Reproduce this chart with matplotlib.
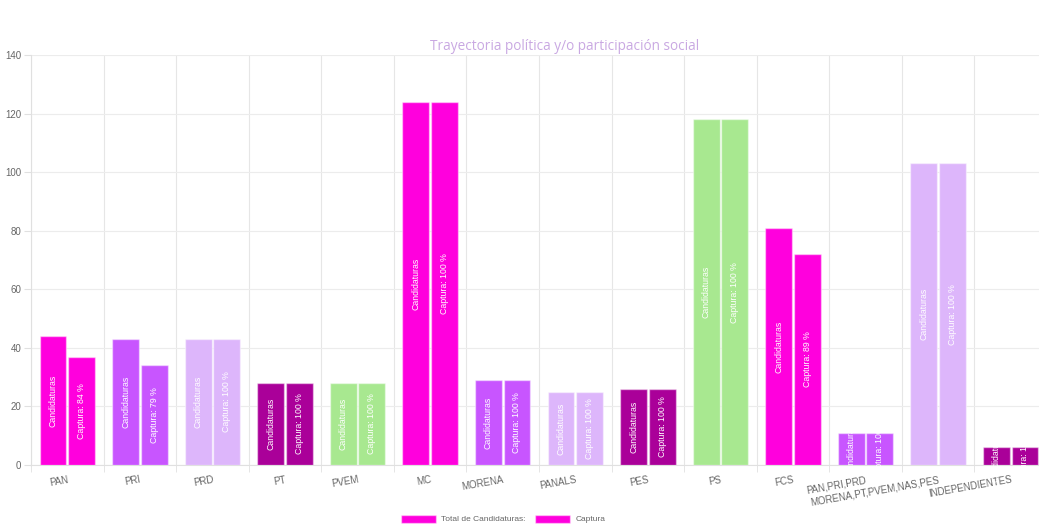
import matplotlib
matplotlib.use("Agg")
import matplotlib.pyplot as plt
import numpy as np

# ===== datos =====
partidos = ["PAN", "PRI", "PRD", "PT", "PVEM", "MC", "MORENA", "PANALS", "PES",
            "PS", "FCS", "PAN,PRI,PRD", "MORENA,PT,PVEM,NAS,PES", "INDEPENDIENTES"]
total_candidaturas = [44, 43, 43, 28, 28, 124, 29, 25, 26, 118, 81, 11, 103, 6]
captura = [37, 34, 43, 28, 28, 124, 29, 25, 26, 118, 72, 11, 103, 6]
captura_pct = [84, 79, 100, 100, 100, 100, 100, 100, 100, 100, 89, 100, 100, 100]
colores = ["#ff00dd", "#c855ff", "#ddb6fb", "#aa0099", "#a8e890"]

titulo = "Trayectoria política y/o participación social"

plt.rcParams["font.family"] = ["Liberation Sans", "DejaVu Sans"]

W, H = 1039, 531
fig = plt.figure(figsize=(W / 100, H / 100), dpi=100)
# el area del grafico se sale un poco por la derecha (como en la captura)
ax = fig.add_axes([31 / W, (H - 465) / H, 1016 / W, 410 / H])

x = np.arange(len(partidos))
bw = 0.37
off = 0.196
cols = [colores[i % len(colores)] for i in range(len(partidos))]

b1 = ax.bar(x - off, total_candidaturas, bw, color=cols,
            edgecolor=(1, 1, 1, 0.45), linewidth=1, zorder=3)
b2 = ax.bar(x + off, captura, bw, color=cols,
            edgecolor=(1, 1, 1, 0.45), linewidth=1, zorder=3)

# etiquetas dentro de las barras (recortadas a la barra)
for i in range(len(partidos)):
    for bar, txt in ((b1[i], "Candidaturas"), (b2[i], f"Captura: {captura_pct[i]} %")):
        cx = bar.get_x() + bar.get_width() / 2
        cy = bar.get_height() / 2
        t = ax.text(cx, cy, txt, rotation=90, ha="center", va="center",
                    color="white", fontsize=6.3, zorder=4)
        t.set_clip_path(bar)

ax.set_xlim(-0.5, len(partidos) - 0.5)
ax.set_ylim(0, 140)
ax.set_yticks(range(0, 141, 20))
ax.set_xticks(x)
ax.set_xticklabels(partidos, rotation=10, ha="right", va="top",
                   rotation_mode="anchor", fontsize=7, color="#666666")
ax.tick_params(axis="x", length=0, pad=7)
ax.tick_params(axis="y", labelsize=7, labelcolor="#666666", length=5,
               color="#e0e0e0", pad=2)

# rejilla: lineas verticales en los limites de cada categoria
ax.set_xticks(np.arange(-0.5, len(partidos), 1), minor=True)
ax.tick_params(axis="x", which="minor", length=5, color="#e0e0e0")
ax.grid(True, which="minor", axis="x", color="#e6e6e6", linewidth=0.8, zorder=0)
ax.grid(True, which="major", axis="y", color="#ececec", linewidth=0.8, zorder=0)
ax.set_axisbelow(True)
for s in ["top", "right"]:
    ax.spines[s].set_visible(False)
for s in ["left", "bottom"]:
    ax.spines[s].set_color("#e0e0e0")
    ax.spines[s].set_linewidth(0.8)

fig.text(565 / W, 1 - 47 / H, titulo, ha="center", va="center",
         fontsize=9.8, color="#c9a8e2", family=["Open Sans", "DejaVu Sans"])

# leyenda
from matplotlib.patches import Patch
handles = [Patch(facecolor="#ff00dd", edgecolor=(1, 1, 1, 0.45)),
           Patch(facecolor="#ff00dd", edgecolor=(1, 1, 1, 0.45))]
fig.legend(handles, ["Total de Candidaturas:", "Captura"], loc="center",
           bbox_to_anchor=(503 / W, 1 - 519 / H), ncol=2, frameon=False,
           fontsize=6, labelcolor="#666666", handlelength=4.2, handleheight=1.1,
           handletextpad=0.6, columnspacing=1.2)

fig.savefig("out.png", dpi=100, facecolor="white")
